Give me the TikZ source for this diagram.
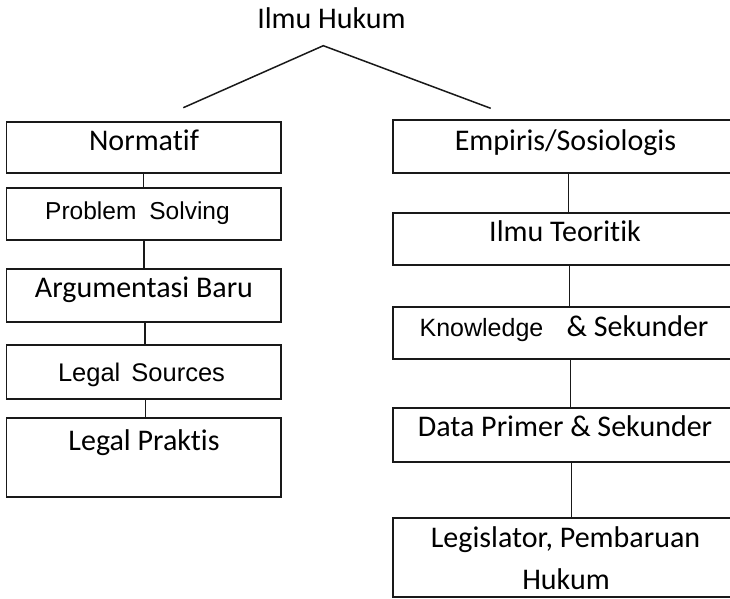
\documentclass[tikz,border=0pt]{standalone}
\usepackage{fontspec}
\setmainfont{Carlito}[RawFeature={-liga;-clig;-dlig;-calt}]
\newfontfamily\arialfont{Liberation Sans}
\begin{document}
\begin{tikzpicture}[x=1pt, y=-1pt,
  box/.style={draw=black!90, line width=1.8pt, rectangle, inner sep=0pt, outer sep=0pt},
  lbox/.style={box, minimum width=274.5pt},
  rbox/.style={box, minimum width=353.4pt},
  link/.style={draw=black!90, line width=1.3pt},
  branch/.style={draw=black!90, line width=1.5pt},
  cal/.style={anchor=base, inner sep=0pt, font=\fontsize{30}{36}\selectfont},
  ari/.style={anchor=base, inner sep=0pt, font=\arialfont\fontsize{24.5}{30}\selectfont}]
  \useasboundingbox (0,0) rectangle (730,598);
  \clip (0,0) rectangle (730,598);

  % title and its two branches
  \node[cal] (title) at (331.5,28) {Ilmu Hukum};
  \coordinate (apex) at (323.3,45.7);
  \coordinate (lend) at (183.3,107.7);
  \coordinate (rend) at (490.7,108.3);
  \draw[branch] (lend) -- (apex) -- (rend);

  % left column boxes
  \node[lbox, minimum height=51.6pt] (n1) at (143.75,147.5) {};
  \node[lbox, minimum height=52.3pt] (n2) at (143.75,213.85) {};
  \node[lbox, minimum height=52.7pt] (n3) at (143.75,295.35) {};
  \node[lbox, minimum height=54pt]   (n4) at (143.75,372) {};
  \node[lbox, minimum height=78.7pt] (n5) at (143.75,457.35) {};

  % left column labels
  \node[cal] (n1t) at (144,150) {Normatif};
  \node[ari] (n2t) at (137.5,219.3) {Problem\hspace{13pt}Solving};
  \node[cal] (n3t) at (144,297) {Argumentasi Baru};
  \node[ari, font=\arialfont\fontsize{25.5}{30}\selectfont] (n4t) at (141.5,381.7) {Legal\hspace{11pt}Sources};
  \node[cal] (n5t) at (144,450) {Legal Praktis};

  % left column links
  \draw[link] ([xshift=-0.25pt]n1.south) -- ([xshift=-0.25pt]n2.north);
  \draw[link] ([xshift=0.25pt]n2.south) -- ([xshift=0.25pt]n3.north);
  \draw[link] ([xshift=1.25pt]n3.south) -- ([xshift=1.25pt]n4.north);
  \draw[link] ([xshift=1.75pt]n4.south) -- ([xshift=1.75pt]n5.north);

  % right column boxes
  \node[rbox, minimum height=53.3pt] (e1) at (570,146.65) {};
  \node[rbox, minimum height=52.3pt] (e2) at (570,238.85) {};
  \node[rbox, minimum height=52.3pt] (e3) at (570,332.85) {};
  \node[rbox, minimum height=53.4pt] (e4) at (570,435) {};
  \node[rbox, minimum height=79pt]   (e5) at (570,557.8) {};

  % right column labels
  \node[cal] (e1t) at (565.5,150.7) {Empiris/Sosiologis};
  \node[cal] (e2t) at (565,241.7) {Ilmu Teoritik};
  \node[ari, font=\arialfont\fontsize{25}{30}\selectfont] (e3a) at (481.5,336.7) {Knowledge};
  \node[cal] (e3b) at (637.5,336.2) {\& Sekunder};
  \node[cal] (e4t) at (565,436.7) {Data Primer \& Sekunder};
  \node[cal] (e5a) at (565.5,547.3) {Legislator, Pembaruan};
  \node[cal] (e5b) at (566,589.3) {Hukum};

  % right column links
  \draw[link] ([xshift=-1.5pt]e1.south) -- ([xshift=-1.5pt]e2.north);
  \draw[link] ([xshift=-0.5pt]e2.south) -- ([xshift=-0.5pt]e3.north);
  \draw[link] ([xshift=0.5pt]e3.south) -- ([xshift=0.5pt]e4.north);
  \draw[link] ([xshift=1.5pt]e4.south) -- ([xshift=1.5pt]e5.north);
\end{tikzpicture}
\end{document}
